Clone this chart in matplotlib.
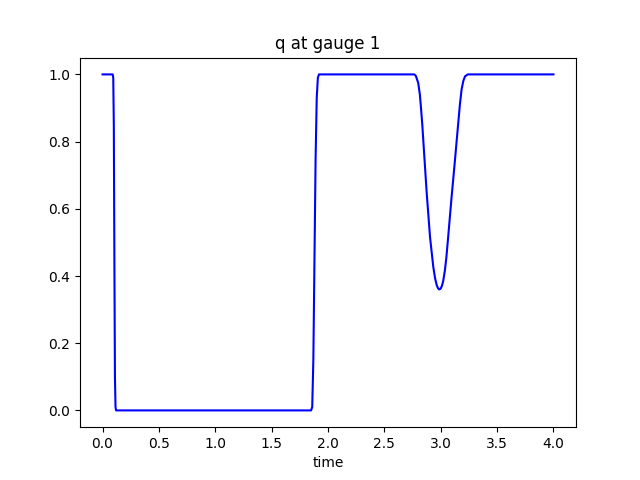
import matplotlib
matplotlib.use("Agg")
import matplotlib.pyplot as plt

time = [0.0, 0.09, 0.095, 0.10, 0.105, 0.11, 0.115, 0.12, 0.5, 1.0, 1.5, 1.85, 1.86, 1.87, 1.88,
        1.89, 1.90, 1.91, 1.92, 2.0, 2.5, 2.766, 2.78, 2.80, 2.815, 2.825, 2.837, 2.846, 2.875,
        2.905, 2.934, 2.95, 2.965, 2.977, 2.987, 2.998, 3.01, 3.022, 3.037, 3.05, 3.066, 3.095,
        3.125, 3.154, 3.17, 3.185, 3.20, 3.215, 3.24, 3.5, 4.0]
q = [1.0, 1.0, 0.99, 0.85, 0.45, 0.1, 0.01, 0.0, 0.0, 0.0, 0.0, 0.0, 0.01, 0.15, 0.45,
     0.75, 0.93, 0.99, 1.0, 1.0, 1.0, 1.0, 0.995, 0.975, 0.94, 0.90, 0.848, 0.80, 0.65,
     0.516, 0.427, 0.393, 0.372, 0.363, 0.36, 0.362, 0.37, 0.385, 0.417, 0.455, 0.516, 0.63,
     0.74, 0.85, 0.91, 0.955, 0.98, 0.994, 1.0, 1.0, 1.0]

fig, ax = plt.subplots(figsize=(6.4, 4.8), dpi=100)
ax.plot(time, q, 'b-')
ax.set_title('q at gauge 1')
ax.set_xlabel('time')
fig.savefig('out.png')
